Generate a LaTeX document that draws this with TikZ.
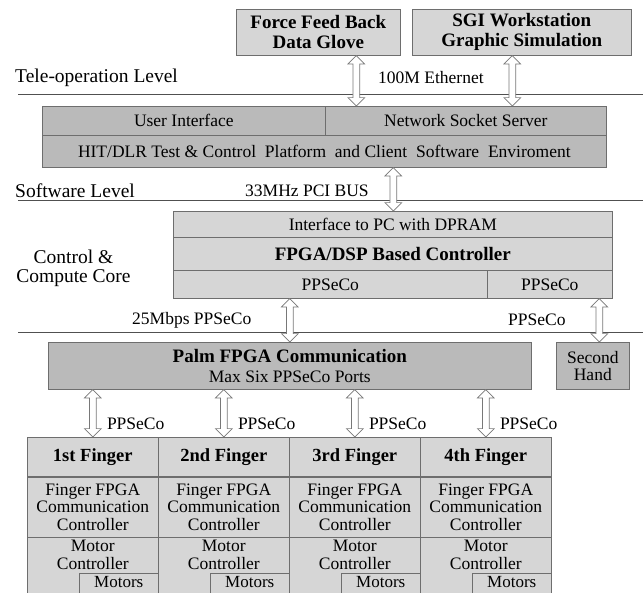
\documentclass[tikz,border=0pt]{standalone}
\usepackage{fontspec}
\setmainfont{Liberation Serif}
\usetikzlibrary{shapes.arrows, positioning, calc}
\definecolor{lightdot}{RGB}{214,214,214}
\definecolor{darkdot}{RGB}{186,186,186}
\definecolor{framegray}{RGB}{110,110,110}
\definecolor{rulegray}{RGB}{80,80,80}
\definecolor{arrowgray}{RGB}{120,120,120}

% hollow two-way arrow between two points on one vertical
\newcommand{\linkarrow}[2]{%
  \path let \p1=(#1), \p2=(#2), \n1={veclen(\x2-\x1,\y2-\y1)} in
    node[linkarr, minimum height=\n1] at ($(#1)!0.5!(#2)$) {};}

\begin{document}
\begin{tikzpicture}[x=1pt, y=-1pt,
    every node/.style={font=\fontsize{17.5}{17.5}\selectfont, inner sep=0pt},
    cellbox/.style 2 args={draw=framegray, line width=0.6pt, anchor=north west,
      minimum width=#1, minimum height=#2, align=center},
    light/.style={fill=lightdot},
    dark/.style={fill=darkdot},
    hdfont/.style={font=\bfseries\fontsize{19}{20}\selectfont},
    fingfont/.style={font=\bfseries\fontsize{18.5}{19}\selectfont},
    lvl/.style={anchor=west, font=\fontsize{19.5}{19}\selectfont},
    lbl/.style={anchor=west},
    rule/.style={draw=rulegray, line width=0.7pt},
    linkarr/.style={double arrow, rotate=90, draw=arrowgray, fill=white,
      line width=0.7pt, inner sep=3pt, double arrow head extend=5pt}]
  \useasboundingbox (0,0) rectangle (643,593);
  \clip (0,0) rectangle (643,593);

  % tele-operation level
  \node[cellbox={164}{46}, light, hdfont] (glove) at (236,9) {Force Feed Back\\Data Glove};
  \node[cellbox={219}{46}, light, hdfont] (sgi) at (412,9) {SGI Workstation\\Graphic Simulation};
  \node[lvl] (tele) at (15,78) {Tele-operation Level};
  \node[lbl] (eth) at (378,78) {100M Ethernet};
  \draw[rule] (18,94) -- (643,94);

  % software level
  \node[cellbox={283}{29}, dark] (ui) at (42,106) {User Interface};
  \node[cellbox={281}{29}, dark] (sock) at (325,106) {Network Socket Server};
  \node[cellbox={564}{32}, dark] (env) at (42,135)
    {HIT/DLR Test \& Control\ \ Platform\ \ and Client\ \ Software\ \ Enviroment};
  \node[lvl] (soft) at (15,191) {Software Level};
  \node[lbl] (pci) at (245,191) {33MHz PCI BUS};
  \draw[rule] (18,200) -- (643,200);

  % control & compute core
  \node[cellbox={439}{26}, light] (dpram) at (173,211) {Interface to PC with DPRAM};
  \node[cellbox={439}{33}, light, hdfont] (ctrl) at (173,237) {FPGA/DSP Based Controller};
  \node[cellbox={314}{28}, light] (port) at (173,270) {PPSeCo};
  \node[cellbox={125}{28}, light] (port2) at (487,270) {PPSeCo};
  \node[lvl, anchor=center, align=center] (core) at (73.5,268) {Control \&\\Compute Core};
  \node[lbl] (mbps) at (132,320) {25Mbps PPSeCo};
  \node[lbl] (hlink) at (508,320) {PPSeCo};
  \draw[rule] (18,332) -- (643,332);

  % hand level
  \node[cellbox={483}{47}, dark, hdfont] (palm) at (48,342)
    {Palm FPGA Communication\\{\mdseries\fontsize{17.5}{17.5}\selectfont Max Six PPSeCo Ports}};
  \node[cellbox={73}{47}, dark] (hand) at (556,342) {Second\\Hand};

  % fingers
  \foreach \nm [count=\i] in {1st,2nd,3rd,4th} {
    \node[cellbox={131}{39}, light, fingfont] (f\i) at ({27+131*(\i-1)},437) {\nm\ Finger};
    \node[cellbox={131}{60}, light] (fc\i) at (f\i.south west) {Finger FPGA\\Communication\\Controller};
    \node[cellbox={131}{64}, light] (fm\i) at (fc\i.south west) {};
    \node[anchor=north, align=center] (mc\i) at ([yshift=-3pt]fm\i.north) {Motor\\Controller};
    \node[cellbox={79}{30}, light] (mo\i) at ([xshift=52pt, yshift=-36pt]fm\i.north west) {};
    \node[anchor=north, font=\fontsize{17}{17}\selectfont] (mt\i) at ([yshift=-3pt]mo\i.north) {Motors};
    \linkarrow{palm.south -| f\i.north}{f\i.north}
    \node[lbl] (pl\i) at ([xshift=14pt, yshift=13pt]f\i.north) {PPSeCo};
  }

  % links
  \coordinate (g1) at ([xshift=38pt]glove.south);
  \coordinate (g2) at ([xshift=-9.5pt]sgi.south);
  \coordinate (bus) at ([xshift=69pt]env.south);
  \coordinate (hd) at ([xshift=6.5pt]hand.north);
  \linkarrow{g1}{g1 |- sock.north}
  \linkarrow{g2}{g2 |- sock.north}
  \linkarrow{bus}{bus |- dpram.north}
  \linkarrow{port.south -| palm.north}{palm.north}
  \linkarrow{port2.south -| hd}{hd}
\end{tikzpicture}
\end{document}
